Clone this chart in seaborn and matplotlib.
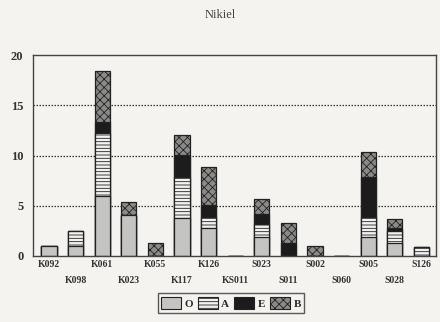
import numpy as np
import pandas as pd
import matplotlib
matplotlib.use("Agg")
import matplotlib.pyplot as plt
import seaborn as sns
from matplotlib.patches import Patch

sites = ["K092", "K098", "K061", "K023", "K055", "K117", "K126", "KS011",
         "S023", "S011", "S002", "S060", "S005", "S028", "S126"]
horizon_o = [1.0, 1.0, 6.0, 4.1, 0.0, 3.8, 2.8, 0.0, 1.9, 0.0, 0.0, 0.0, 1.9, 1.3, 0.0]
horizon_a = [0.0, 1.5, 6.2, 0.0, 0.0, 4.1, 1.1, 0.0, 1.3, 0.0, 0.0, 0.0, 2.0, 1.2, 0.9]
horizon_e = [0.0, 0.0, 1.1, 0.0, 0.0, 2.2, 1.2, 0.0, 1.0, 1.3, 0.0, 0.0, 4.0, 0.3, 0.0]
horizon_b = [0.0, 0.0, 5.1, 1.3, 1.3, 1.9, 3.8, 0.0, 1.5, 2.0, 1.0, 0.0, 2.5, 0.9, 0.0]
layer_names = ["O", "A", "E", "B"]

sns.set_style("white")
plt.rcParams["font.family"] = ["Liberation Serif", "DejaVu Serif"]
plt.rcParams["hatch.linewidth"] = 0.6

BG = "#f4f3f0"
styles = {
    "O": dict(face="#c4c4c2", hatch=""),
    "A": dict(face="#f2f2f0", hatch="-----"),
    "E": dict(face="#1c1c1c", hatch=""),
    "B": dict(face="#8a8a88", hatch="xxxx"),
}

df = pd.DataFrame({"site": sites, "O": horizon_o, "A": horizon_a,
                   "E": horizon_e, "B": horizon_b})
cum = df[layer_names].cumsum(axis=1)

fig = plt.figure(figsize=(4.4, 3.22), dpi=100, facecolor=BG)
ax = fig.add_axes([0.075, 0.205, 0.916, 0.624], facecolor=BG)

# stacked bars: draw cumulative totals from the top layer down
for name in reversed(layer_names):
    st = styles[name]
    sns.barplot(x=df["site"], y=cum[name], order=sites, color=st["face"],
                width=0.57, edgecolor="#222222", linewidth=0.9,
                saturation=1, ax=ax)
    for p in ax.containers[-1]:
        p.set_facecolor(st["face"])
        p.set_hatch(st["hatch"])

ax.set_ylim(0, 20)
ax.set_xlim(-0.6, len(sites) - 0.45)
ax.set_yticks([0, 5, 10, 15, 20])
for y in [5, 10, 15]:
    ax.axhline(y, color="#333333", linestyle=(0, (1.2, 1.2)), linewidth=0.9, zorder=0)

for s in ax.spines.values():
    s.set_color("#444444")
    s.set_linewidth(1.0)

ax.set_xlabel("")
ax.set_ylabel("")
labels = [s if i % 2 == 0 else "\n" + s for i, s in enumerate(sites)]
ax.set_xticks(range(len(sites)))
ax.set_xticklabels(labels, fontsize=7, fontweight="bold", color="#333333",
                   linespacing=2.0)
ax.set_xticks(np.arange(-0.5, len(sites), 1), minor=True)
ax.tick_params(axis="x", which="major", length=0, pad=3)
ax.tick_params(axis="x", which="minor", length=3, direction="out", color="#444444")
ax.tick_params(axis="y", length=3, direction="out", color="#444444",
               labelsize=9, pad=4)
for t in ax.get_yticklabels():
    t.set_fontweight("bold")
    t.set_color("#333333")

fig.text(0.5, 0.953, "Nikiel", ha="center", va="center", fontsize=9, color="#444444")

handles = [Patch(facecolor=styles[n]["face"], hatch=styles[n]["hatch"],
                 edgecolor="#222222", linewidth=0.8) for n in layer_names]
leg = fig.legend(handles, layer_names, loc="center", bbox_to_anchor=(0.525, 0.059),
                 ncol=4, frameon=True, handlelength=1.8,
                 handleheight=1.4, handletextpad=0.3, columnspacing=0.45,
                 borderpad=0.3, fancybox=False, prop={"weight": "bold", "size": 8})
leg.get_frame().set_edgecolor("#333333")
leg.get_frame().set_linewidth(1.0)
leg.get_frame().set_facecolor(BG)

fig.savefig("out.png", dpi=100, facecolor=BG)
